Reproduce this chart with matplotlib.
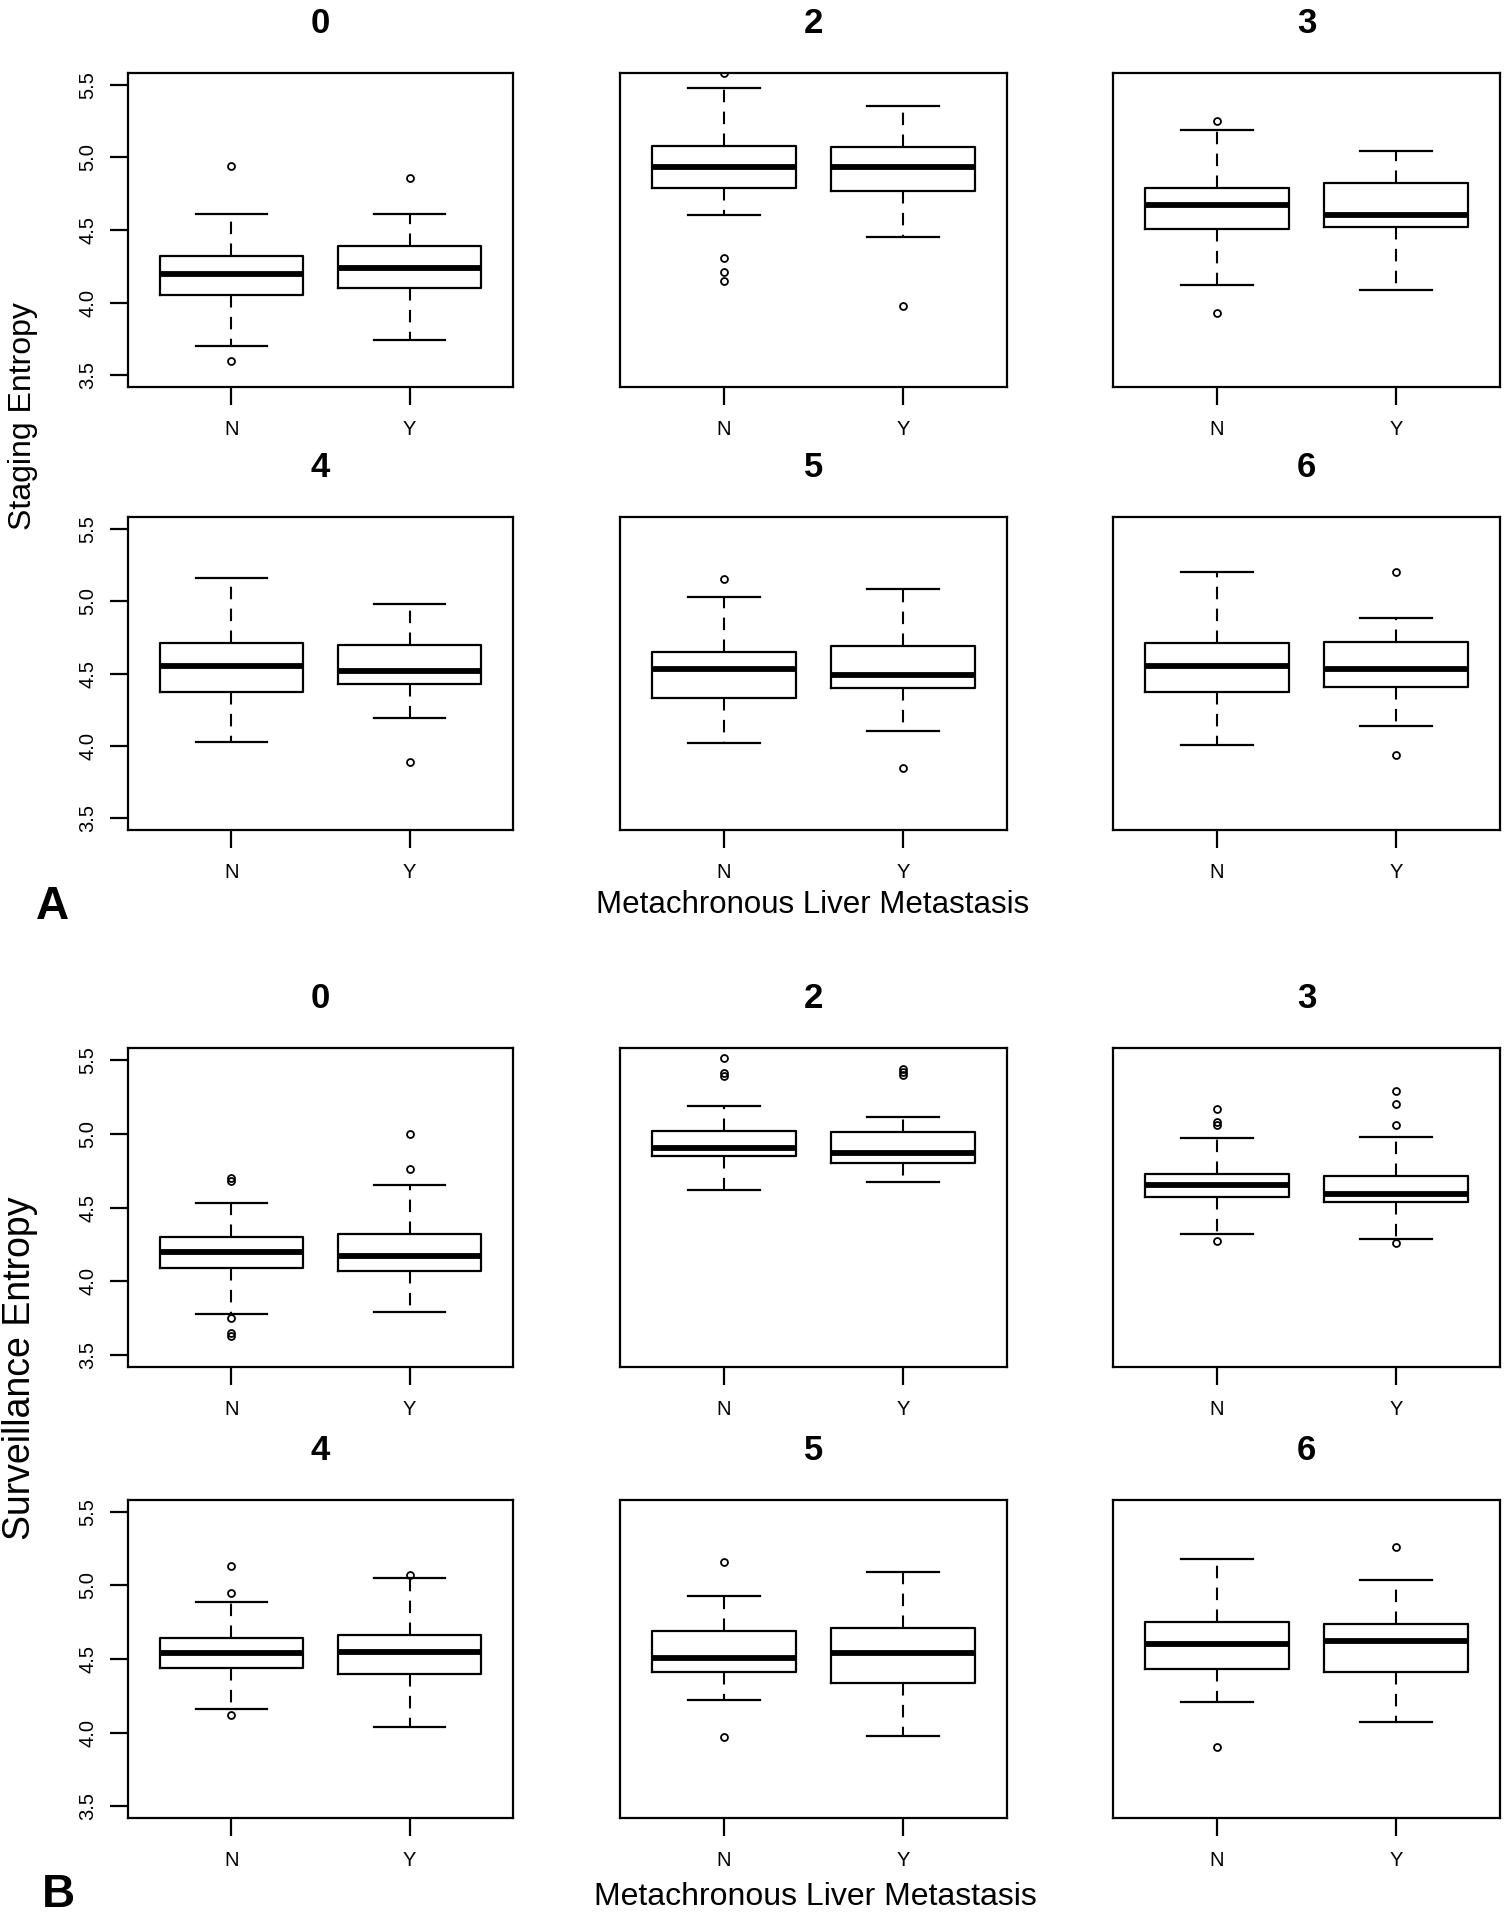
import matplotlib
matplotlib.use("Agg")
import matplotlib.pyplot as plt

plt.rcParams['font.family'] = ['Liberation Sans', 'DejaVu Sans']

stages = ["0", "2", "3", "4", "5", "6"]
groups = ["N", "Y"]
yticks = [3.5, 4.0, 4.5, 5.0, 5.5]

# panel A: staging entropy, one [N, Y] pair per stage
staging_whislo = [[3.70, 3.74], [4.60, 4.45], [4.12, 4.09], [4.03, 4.19], [4.02, 4.10], [4.01, 4.14]]
staging_q1 = [[4.05, 4.10], [4.79, 4.77], [4.51, 4.52], [4.37, 4.43], [4.33, 4.40], [4.37, 4.41]]
staging_med = [[4.20, 4.24], [4.93, 4.93], [4.67, 4.60], [4.55, 4.52], [4.53, 4.49], [4.55, 4.53]]
staging_q3 = [[4.32, 4.39], [5.08, 5.07], [4.79, 4.82], [4.71, 4.70], [4.65, 4.69], [4.71, 4.72]]
staging_whishi = [[4.61, 4.61], [5.48, 5.35], [5.19, 5.04], [5.16, 4.98], [5.03, 5.08], [5.20, 4.88]]
staging_fliers = [[[3.60, 4.94], [4.86]],
                  [[5.58, 4.31, 4.21, 4.15], [3.98]],
                  [[5.25, 3.93], []],
                  [[], [3.89]],
                  [[5.15], [3.85]],
                  [[], [5.20, 3.94]]]

# panel B: surveillance entropy
surv_whislo = [[3.78, 3.79], [4.62, 4.67], [4.32, 4.29], [4.16, 4.04], [4.22, 3.98], [4.21, 4.07]]
surv_q1 = [[4.09, 4.07], [4.85, 4.80], [4.57, 4.54], [4.44, 4.40], [4.41, 4.34], [4.43, 4.41]]
surv_med = [[4.20, 4.17], [4.90, 4.87], [4.65, 4.59], [4.54, 4.55], [4.51, 4.54], [4.60, 4.62]]
surv_q3 = [[4.30, 4.32], [5.02, 5.01], [4.73, 4.71], [4.64, 4.66], [4.69, 4.71], [4.75, 4.74]]
surv_whishi = [[4.53, 4.65], [5.19, 5.11], [4.97, 4.98], [4.89, 5.05], [4.93, 5.09], [5.18, 5.04]]
surv_fliers = [[[4.70, 4.68, 3.75, 3.65, 3.63], [5.00, 4.76]],
               [[5.51, 5.41, 5.39], [5.44, 5.42, 5.40]],
               [[5.17, 5.08, 5.06, 4.27], [5.29, 5.20, 5.06, 4.26]],
               [[5.13, 4.95, 4.12], [5.07]],
               [[5.16, 3.97], []],
               [[3.90], [5.26]]]

W, H = 1510, 1920
fig = plt.figure(figsize=(W / 100, H / 100), dpi=100)

col_x = [(128, 513), (620, 1007), (1113, 1500)]
row_y = [(73, 387), (517, 830), (1048, 1367), (1500, 1818)]


def make_axes(px_left, px_right, px_top, px_bottom):
    return fig.add_axes([px_left / W, 1 - px_bottom / H,
                         (px_right - px_left) / W, (px_bottom - px_top) / H])


def draw_panel(ax, title, whislo, q1, med, q3, whishi, fliers, first_col):
    stats = []
    for g in range(2):
        stats.append(dict(whislo=whislo[g], q1=q1[g], med=med[g], q3=q3[g],
                          whishi=whishi[g], fliers=fliers[g], label=groups[g]))
    ax.bxp(stats, positions=[1, 2], widths=0.8, showfliers=True,
           boxprops=dict(color='black', linewidth=1.6),
           medianprops=dict(color='black', linewidth=4.2, solid_capstyle='butt'),
           whiskerprops=dict(color='black', linewidth=1.5, linestyle=(0, (6, 4.5))),
           capprops=dict(color='black', linewidth=1.6),
           flierprops=dict(marker='o', markerfacecolor='none', markeredgecolor='black',
                           markersize=5, markeredgewidth=1.3))
    ax.set_xlim(0.42, 2.58)
    ax.set_ylim(3.42, 5.58)
    for s in ax.spines.values():
        s.set_linewidth(1.6)
    ax.set_xticks([1, 2])
    ax.set_xticklabels(groups, fontsize=14.5)
    ax.tick_params(axis='x', direction='out', length=13, width=1.6, pad=11)
    if first_col:
        ax.set_yticks(yticks)
        ax.set_yticklabels([f"{v:.1f}" for v in yticks], rotation=90, va='center', fontsize=14.5)
        ax.tick_params(axis='y', direction='out', length=13, width=1.6, pad=9)
    else:
        ax.set_yticks([])
    ax.set_title(title, fontsize=25, fontweight='bold', pad=29)


parts = [
    (staging_whislo, staging_q1, staging_med, staging_q3, staging_whishi, staging_fliers),
    (surv_whislo, surv_q1, surv_med, surv_q3, surv_whishi, surv_fliers),
]

for p, data in enumerate(parts):
    whislo, q1, med, q3, whishi, fliers = data
    for i, st in enumerate(stages):
        r = p * 2 + i // 3
        c = i % 3
        ax = make_axes(col_x[c][0], col_x[c][1], row_y[r][0], row_y[r][1])
        draw_panel(ax, st, whislo[i], q1[i], med[i], q3[i], whishi[i], fliers[i], c == 0)

# axis titles and panel letters
fig.text(23 / W, 1 - 416 / H, "Staging Entropy", rotation=90, ha='center', va='center', fontsize=23)
fig.text(20 / W, 1 - 1368 / H, "Surveillance Entropy", rotation=90, ha='center', va='center', fontsize=27)
fig.text(813 / W, 1 - 905 / H, "Metachronous Liver Metastasis", ha='center', va='center', fontsize=22.5)
fig.text(815 / W, 1 - 1897 / H, "Metachronous Liver Metastasis", ha='center', va='center', fontsize=23)
fig.text(52 / W, 1 - 907 / H, "A", ha='center', va='center', fontsize=33, fontweight='bold')
fig.text(58 / W, 1 - 1895 / H, "B", ha='center', va='center', fontsize=33, fontweight='bold')

fig.savefig("out.png", dpi=100)
